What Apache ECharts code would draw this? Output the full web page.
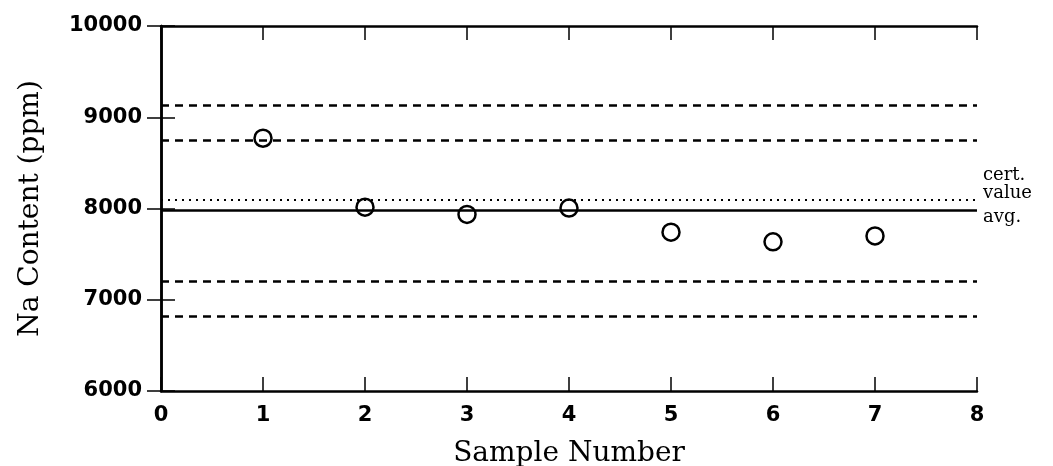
<!DOCTYPE html>
<html>
<head>
<meta charset="utf-8">
<script src="https://cdn.jsdelivr.net/npm/echarts@6/dist/echarts.min.js"></script>
<style>
  html, body { margin: 0; padding: 0; background: #fff; }
  #chart { width: 1053px; height: 466px; }
</style>
</head>
<body>
<div id="chart"></div>
<script>
// 시료 번호와 Na 함량
const sampleNo = [1, 2, 3, 4, 5, 6, 7];
const naContent = [8770, 8015, 7935, 8005, 7740, 7635, 7700];

// 기준선 값
const avgValue = 7980;
const certValue = 8100;
const outerLimits = [9130, 6815];
const innerLimits = [8750, 7200];

const serifFont = '"DejaVu Serif", "Liberation Serif", serif';
const sansFont = '"DejaVu Sans", "Liberation Sans", sans-serif';

function hLine(y, type, width) {
  return { yAxis: y, lineStyle: { type: type, width: width, color: '#000' } };
}

var myChart = echarts.init(document.getElementById('chart'));

var axisLineStyle = { show: true, lineStyle: { color: '#000', width: 2.5 } };
var tickStyle = { show: true, inside: true, length: 14, lineStyle: { color: '#000', width: 1.5 } };

var option = {
  animation: false,
  grid: { left: 161, right: 76, top: 26, bottom: 75, containLabel: false, outerBoundsMode: 'none' },
  xAxis: [
    {
      type: 'value', min: 0, max: 8, interval: 1, position: 'bottom',
      name: 'Sample Number', nameLocation: 'middle', nameGap: 49,
      nameTextStyle: { fontFamily: serifFont, fontSize: 28, color: '#000' },
      axisLine: axisLineStyle, axisTick: tickStyle,
      axisLabel: { margin: 14, fontFamily: sansFont, fontSize: 21, fontWeight: 'bold', color: '#000' },
      splitLine: { show: false }
    },
    {
      type: 'value', min: 0, max: 8, interval: 1, position: 'top',
      axisLine: axisLineStyle, axisTick: tickStyle,
      axisLabel: { show: false }, splitLine: { show: false }
    }
  ],
  yAxis: [
    {
      type: 'value', min: 6000, max: 10000, interval: 1000, position: 'left',
      name: 'Na Content (ppm)', nameLocation: 'middle', nameGap: 116,
      nameTextStyle: { fontFamily: serifFont, fontSize: 28, color: '#000' },
      axisLine: axisLineStyle, axisTick: tickStyle,
      axisLabel: {
        margin: 19, fontFamily: sansFont, fontSize: 21, fontWeight: 'bold', color: '#000',
        formatter: function (v) { return String(v); }
      },
      splitLine: { show: false }
    },
    {
      type: 'value', min: 6000, max: 10000, interval: 1000, position: 'right',
      axisLine: axisLineStyle, axisTick: tickStyle,
      axisLabel: { show: false }, splitLine: { show: false }
    }
  ],
  series: [
    {
      type: 'scatter',
      data: sampleNo.map(function (x, i) { return [x, naContent[i]]; }),
      symbol: 'circle',
      symbolSize: 17,
      itemStyle: { color: 'rgba(0,0,0,0)', borderColor: '#000', borderWidth: 2.5, opacity: 1 },
      z: 5,
      markLine: {
        silent: true,
        symbol: 'none',
        label: { show: false },
        data: [
          hLine(outerLimits[0], [8, 6], 2.5),
          hLine(innerLimits[0], [8, 6], 2.5),
          hLine(innerLimits[1], [8, 6], 2.5),
          hLine(outerLimits[1], [8, 6], 2.5),
          {
            yAxis: certValue,
            lineStyle: { type: [2, 5], width: 2, color: '#000' },
            label: {
              show: true, position: 'end', formatter: 'cert.\nvalue', distance: 6,
              fontFamily: serifFont, fontSize: 18, lineHeight: 18, color: '#000',
              offset: [0, -15]
            }
          },
          {
            yAxis: avgValue,
            lineStyle: { type: 'solid', width: 2.5, color: '#000' },
            label: {
              show: true, position: 'end', formatter: 'avg.', distance: 6,
              fontFamily: serifFont, fontSize: 18, color: '#000',
              offset: [0, 7]
            }
          }
        ]
      }
    }
  ]
};

myChart.setOption(option);

window.addEventListener('resize', function () {
  myChart.resize();
});
</script>
</body>
</html>
